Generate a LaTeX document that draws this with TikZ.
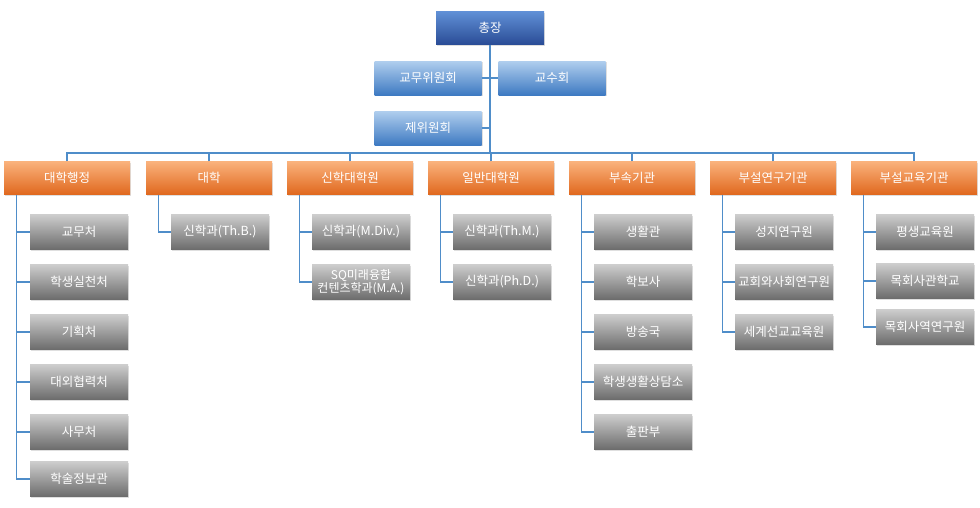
\documentclass[tikz,border=0pt]{standalone}
\usepackage{fontspec}
\setmainfont{Noto Sans CJK KR}
\usetikzlibrary{shadows}
\definecolor{linkblue}{RGB}{79,141,201}
\definecolor{headtop}{RGB}{96,144,214}
\definecolor{headbot}{RGB}{42,76,150}
\definecolor{counciltop}{RGB}{176,206,238}
\definecolor{councilbot}{RGB}{62,122,194}
\definecolor{depttop}{RGB}{250,178,124}
\definecolor{deptbot}{RGB}{224,104,30}
\definecolor{unittop}{RGB}{205,205,205}
\definecolor{unitbot}{RGB}{108,108,108}

\tikzset{
  box/.style={inner sep=0pt, text=white, font=\fontsize{12.5}{14}\selectfont,
    drop shadow={opacity=0.25, shadow xshift=1pt, shadow yshift=-1pt}},
  headbox/.style={box, minimum width=108pt, minimum height=33pt, top color=headtop, bottom color=headbot},
  councilbox/.style={box, minimum width=107pt, minimum height=34pt, top color=counciltop, bottom color=councilbot},
  deptbox/.style={box, minimum width=126pt, minimum height=33pt, top color=depttop, bottom color=deptbot},
  unitbox/.style={box, minimum width=98pt, minimum height=35pt, top color=unittop, bottom color=unitbot},
  link/.style={draw=linkblue, line width=1.3pt},
}

\begin{document}
\begin{tikzpicture}[x=1pt, y=-1pt]
  \useasboundingbox (0,0) rectangle (980,507);
  % top
  \node[headbox] (top) at (490,28) {총장};
  \node[councilbox] (c1) at (428,78) {교무위원회};
  \node[councilbox] (c2) at (552,78) {교수회};
  \node[councilbox] (c3) at (428,128) {제위원회};
  \coordinate (hub) at (490,153);
  % departments
  \node[deptbox] (d1) at (67,178)  {대학행정};
  \node[deptbox] (d2) at (209,178) {대학};
  \node[deptbox] (d3) at (350,178) {신학대학원};
  \node[deptbox] (d4) at (491,178) {일반대학원};
  \node[deptbox] (d5) at (632,178) {부속기관};
  \node[deptbox] (d6) at (773,178) {부설연구기관};
  \node[deptbox] (d7) at (914,178) {부설교육기관};
  % units
  \node[unitbox] (g11) at (79,232) {교무처};
  \node[unitbox] (g12) at (79,282) {학생실천처};
  \node[unitbox] (g13) at (79,332) {기획처};
  \node[unitbox] (g14) at (79,382) {대외협력처};
  \node[unitbox] (g15) at (79,432) {사무처};
  \node[unitbox] (g16) at (79,479) {학술정보관};
  \node[unitbox] (g21) at (220,232) {신학과(Th.B.)};
  \node[unitbox] (g31) at (361,232) {신학과(M.Div.)};
  \node[unitbox, align=center, font=\fontsize{12}{13}\selectfont] (g32) at (361,282) {SQ미래융합\\컨텐츠학과(M.A.)};
  \node[unitbox] (g41) at (502,232) {신학과(Th.M.)};
  \node[unitbox] (g42) at (502,282) {신학과(Ph.D.)};
  \node[unitbox] (g51) at (643,232) {생활관};
  \node[unitbox] (g52) at (643,282) {학보사};
  \node[unitbox] (g53) at (643,332) {방송국};
  \node[unitbox] (g54) at (643,382) {학생생활상담소};
  \node[unitbox] (g55) at (643,432) {출판부};
  \node[unitbox] (g61) at (784,232) {성지연구원};
  \node[unitbox] (g62) at (784,282) {교회와사회연구원};
  \node[unitbox] (g63) at (784,332) {세계선교교육원};
  \node[unitbox] (g71) at (925,232) {평생교육원};
  \node[unitbox] (g72) at (925,281) {목회사관학교};
  \node[unitbox] (g73) at (925,327) {목회사역연구원};
  % connectors
  \path[link] (top) -- (hub)
    (c1) -- (c2)
    (c3.east) -- (c3.east -| top)
    (d1.north) |- (hub) -| (d7.north)
    (d2.north) -- (d2.north |- hub)
    (d3.north) -- (d3.north |- hub)
    (d4.north) -- (d4.north |- hub)
    (d5.north) -- (d5.north |- hub)
    (d6.north) -- (d6.north |- hub);
  \path[link] ([xshift=13pt]d1.south west) |- (g11) ([xshift=13pt]d1.south west) |- (g12)
    ([xshift=13pt]d1.south west) |- (g13) ([xshift=13pt]d1.south west) |- (g14)
    ([xshift=13pt]d1.south west) |- (g15) ([xshift=13pt]d1.south west) |- (g16);
  \path[link] ([xshift=13pt]d2.south west) |- (g21);
  \path[link] ([xshift=13pt]d3.south west) |- (g31) ([xshift=13pt]d3.south west) |- (g32);
  \path[link] ([xshift=13pt]d4.south west) |- (g41) ([xshift=13pt]d4.south west) |- (g42);
  \path[link] ([xshift=13pt]d5.south west) |- (g51) ([xshift=13pt]d5.south west) |- (g52)
    ([xshift=13pt]d5.south west) |- (g53) ([xshift=13pt]d5.south west) |- (g54)
    ([xshift=13pt]d5.south west) |- (g55);
  \path[link] ([xshift=13pt]d6.south west) |- (g61) ([xshift=13pt]d6.south west) |- (g62)
    ([xshift=13pt]d6.south west) |- (g63);
  \path[link] ([xshift=13pt]d7.south west) |- (g71) ([xshift=13pt]d7.south west) |- (g72)
    ([xshift=13pt]d7.south west) |- (g73);
\end{tikzpicture}
\end{document}
